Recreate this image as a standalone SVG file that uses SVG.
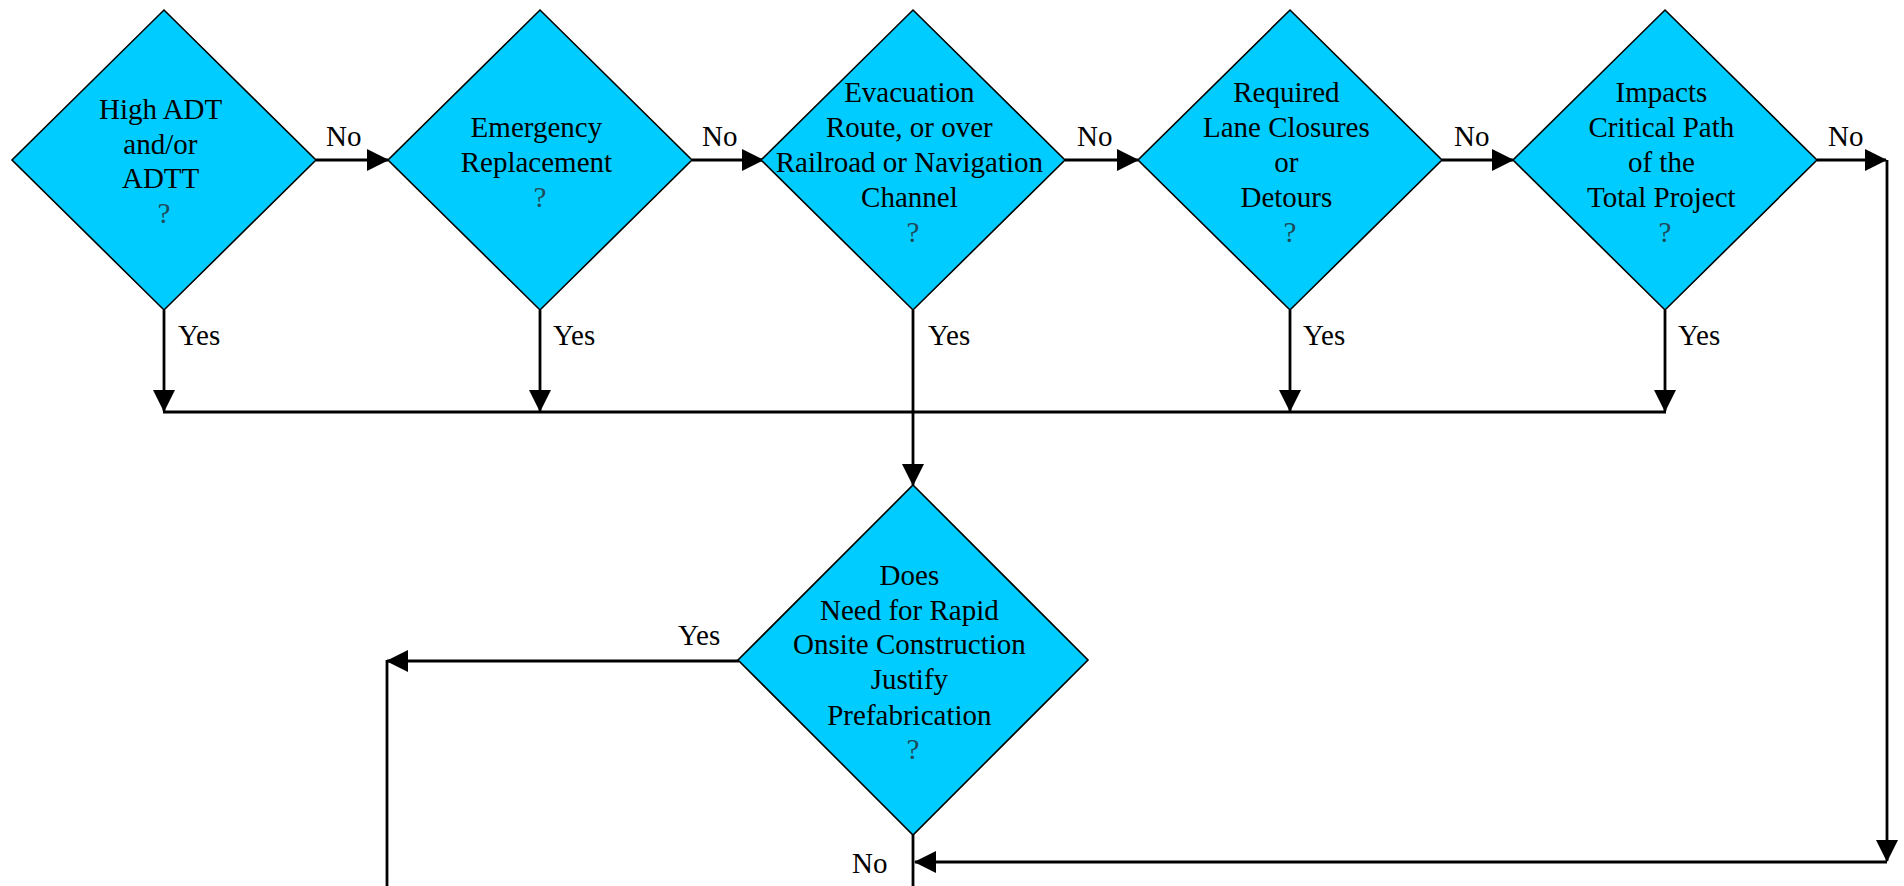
<svg xmlns="http://www.w3.org/2000/svg" width="1904" height="886" viewBox="0 0 1904 886">
  <defs>
    <style>
      .decision { fill: #00CCFF; stroke: #000; stroke-width: 1.6; }
      .label { font-family: "Liberation Serif", "Times New Roman", serif; font-size: 29px; fill: #000; }
      .node-text { text-anchor: middle; }
      .q { fill: #1f4a57; }
      .wire { fill: none; stroke: #000; stroke-width: 2.8; }
    </style>
    <marker id="arrow" viewBox="0 0 22 22" refX="21" refY="11" markerWidth="22" markerHeight="22" markerUnits="userSpaceOnUse" orient="auto">
      <path d="M0,0 L22,11 L0,22 Z" fill="#000"/>
    </marker>
  </defs>

  <rect x="0" y="0" width="1904" height="886" fill="#fff"/>

  <!-- connectors -->
  <g id="connectors">
    <!-- "No" chain along the top row -->
    <path class="wire" d="M316,160 H388" marker-end="url(#arrow)"/>
    <path class="wire" d="M692,160 H763" marker-end="url(#arrow)"/>
    <path class="wire" d="M1065,160 H1138" marker-end="url(#arrow)"/>
    <path class="wire" d="M1442,160 H1513" marker-end="url(#arrow)"/>
    <path class="wire" d="M1817,160 H1886" marker-end="url(#arrow)"/>
    <path class="wire" d="M1887,160 V861" marker-end="url(#arrow)"/>
    <path class="wire" d="M1887,862 H915" marker-end="url(#arrow)"/>

    <!-- "Yes" drops onto the collector bar -->
    <path class="wire" d="M164,310 V411" marker-end="url(#arrow)"/>
    <path class="wire" d="M540,310 V411" marker-end="url(#arrow)"/>
    <path class="wire" d="M1290,310 V411" marker-end="url(#arrow)"/>
    <path class="wire" d="M1665,310 V411" marker-end="url(#arrow)"/>
    <path class="wire" d="M163,412 H1666"/>
    <path class="wire" d="M913,310 V485" marker-end="url(#arrow)"/>

    <!-- outcomes of the prefabrication question -->
    <path class="wire" d="M739,661 H387" marker-end="url(#arrow)"/>
    <path class="wire" d="M387,660 V886"/>
    <path class="wire" d="M913,835 V886"/>
  </g>

  <!-- connector labels -->
  <g id="edge-labels" class="label">
    <text x="326" y="146">No</text>
    <text x="702" y="146">No</text>
    <text x="1077" y="146">No</text>
    <text x="1454" y="146">No</text>
    <text x="1828" y="146">No</text>
    <text x="178" y="345">Yes</text>
    <text x="553" y="345">Yes</text>
    <text x="928" y="345">Yes</text>
    <text x="1303" y="345">Yes</text>
    <text x="1678" y="345">Yes</text>
    <text x="678" y="645">Yes</text>
    <text x="852" y="873">No</text>
  </g>

  <g id="node-high-adt">
    <polygon class="decision" points="164,10 316,160 164,310 12,160"/>
    <text class="label node-text" x="164" y="119">
      <tspan x="164">High ADT</tspan>
      <tspan x="164" dy="35">and/or</tspan>
      <tspan x="164" dy="34">ADTT</tspan>
      <tspan x="164" dy="35" class="q">?</tspan>
    </text>
  </g>

  <g id="node-emergency">
    <polygon class="decision" points="540,10 692,160 540,310 388,160"/>
    <text class="label node-text" x="540" y="137">
      <tspan x="540">Emergency</tspan>
      <tspan x="540" dy="35">Replacement</tspan>
      <tspan x="540" dy="35" class="q">?</tspan>
    </text>
  </g>

  <g id="node-evacuation">
    <polygon class="decision" points="913,10 1065,160 913,310 761,160"/>
    <text class="label node-text" x="913" y="102">
      <tspan x="913">Evacuation</tspan>
      <tspan x="913" dy="35">Route, or over</tspan>
      <tspan x="913" dy="35">Railroad or Navigation</tspan>
      <tspan x="913" dy="35">Channel</tspan>
      <tspan x="913" dy="35" class="q">?</tspan>
    </text>
  </g>

  <g id="node-lane-closures">
    <polygon class="decision" points="1290,10 1442,160 1290,310 1138,160"/>
    <text class="label node-text" x="1290" y="102">
      <tspan x="1290">Required</tspan>
      <tspan x="1290" dy="35">Lane Closures</tspan>
      <tspan x="1290" dy="35">or</tspan>
      <tspan x="1290" dy="35">Detours</tspan>
      <tspan x="1290" dy="35" class="q">?</tspan>
    </text>
  </g>

  <g id="node-critical-path">
    <polygon class="decision" points="1665,10 1817,160 1665,310 1513,160"/>
    <text class="label node-text" x="1665" y="102">
      <tspan x="1665">Impacts</tspan>
      <tspan x="1665" dy="35">Critical Path</tspan>
      <tspan x="1665" dy="35">of the</tspan>
      <tspan x="1665" dy="35">Total Project</tspan>
      <tspan x="1665" dy="35" class="q">?</tspan>
    </text>
  </g>

  <g id="node-rapid-construction">
    <polygon class="decision" points="913,485 1088,660 913,835 738,660"/>
    <text class="label node-text" x="913" y="585">
      <tspan x="913">Does</tspan>
      <tspan x="913" dy="35">Need for Rapid</tspan>
      <tspan x="913" dy="34">Onsite Construction</tspan>
      <tspan x="913" dy="35">Justify</tspan>
      <tspan x="913" dy="36">Prefabrication</tspan>
      <tspan x="913" dy="34" class="q">?</tspan>
    </text>
  </g>
</svg>
